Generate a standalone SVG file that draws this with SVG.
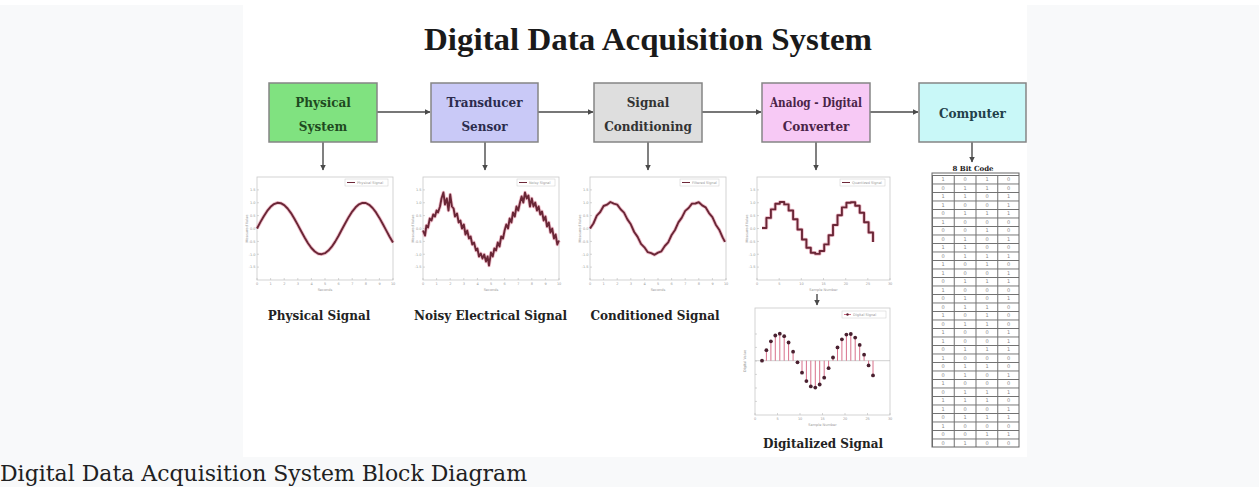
<svg xmlns="http://www.w3.org/2000/svg" xmlns:xlink="http://www.w3.org/1999/xlink" width="1259" height="487" viewBox="0 0 1259 487">
<style>
.bg{fill:#f8f9fa}
.box{stroke:#858585;stroke-width:1.5}
.bt{font-family:"DejaVu Serif","Liberation Serif",serif;font-weight:bold;font-size:12px;text-anchor:middle}
.lab{font-family:"DejaVu Serif","Liberation Serif",serif;font-weight:bold;font-size:12px;text-anchor:middle;fill:#222}
.conn{stroke:#4a4a4a;stroke-width:1.4;fill:none}
.frame{fill:#fff;stroke:#c8c8c8;stroke-width:0.8}
.tk{stroke:#bbb;stroke-width:0.6}
.tiny{font-family:"DejaVu Sans",sans-serif;font-size:3.5px;fill:#999}
.halo{fill:none;stroke:#eaa6b8;stroke-width:3.6;stroke-linejoin:round;opacity:0.7}
.sig{fill:none;stroke:#6a2636;stroke-width:1.9;stroke-linejoin:round}
.leg{fill:#fff;stroke:#ccc;stroke-width:0.5}
.cell{font-family:"DejaVu Sans",sans-serif;font-size:5px;fill:#888;text-anchor:middle}
</style>
<defs>
<marker id="ah" viewBox="0 0 10 10" refX="9" refY="5" markerWidth="4" markerHeight="4" orient="auto">
<path d="M0,0 L10,5 L0,10 z" fill="#4a4a4a"/>
</marker>
<pattern id="grid" x="932" y="175" width="21.75" height="8.5" patternUnits="userSpaceOnUse">
<path d="M0,0.4 H21.75 M0.5,0 V8.5" stroke="#6f6f6f" stroke-width="1" fill="none"/>
</pattern>
<g id="yt">
<text class="tiny" x="-1.5" y="14" text-anchor="end">1.5</text>
<text class="tiny" x="-1.5" y="27" text-anchor="end">1.0</text>
<text class="tiny" x="-1.5" y="40" text-anchor="end">0.5</text>
<text class="tiny" x="-1.5" y="52.5" text-anchor="end">0.0</text>
<text class="tiny" x="-1.5" y="65.5" text-anchor="end">-0.5</text>
<text class="tiny" x="-1.5" y="78.5" text-anchor="end">-1.0</text>
<text class="tiny" x="-1.5" y="91" text-anchor="end">-1.5</text>
</g>
<g id="ax10">
<rect class="frame" x="0" y="0" width="136" height="103"/>
<path class="tk" d="M0,103 v-2 M13.6,103 v-2 M27.2,103 v-2 M40.8,103 v-2 M54.4,103 v-2 M68,103 v-2 M81.6,103 v-2 M95.2,103 v-2 M108.8,103 v-2 M122.4,103 v-2 M136,103 v-2 M0,12.9 h2 M0,25.75 h2 M0,38.6 h2 M0,51.5 h2 M0,64.4 h2 M0,77.25 h2 M0,90.1 h2"/>
<text class="tiny" y="108" x="-1 12.6 26.2 39.8 53.4 67 80.6 94.2 107.8 121.4 133.9 136">012345678910</text>
<use xlink:href="#yt" href="#yt"/>
<text class="tiny" x="68" y="114" text-anchor="middle">Seconds</text>
<text class="tiny" transform="translate(-9,51.5) rotate(-90)" text-anchor="middle">Measured Value</text>
</g>
</defs>

<rect x="0" y="0" width="1259" height="487" fill="#fff"/>
<rect class="bg" x="0" y="5" width="243" height="452"/>
<rect class="bg" x="1027" y="5" width="232" height="452"/>
<rect class="bg" x="0" y="457" width="1259" height="30"/>

<text x="648" y="50" font-family="'Liberation Serif',serif" font-weight="bold" font-size="32" text-anchor="middle" textLength="448" lengthAdjust="spacingAndGlyphs" fill="#1a1a1a">Digital Data Acquisition System</text>

<g id="connectors">
<path class="conn" d="M377,112 H430" marker-end="url(#ah)"/>
<path class="conn" d="M538,112 H593" marker-end="url(#ah)"/>
<path class="conn" d="M702,112 H761" marker-end="url(#ah)"/>
<path class="conn" d="M870,112 H918" marker-end="url(#ah)"/>
<path class="conn" d="M323,142 V170" marker-end="url(#ah)"/>
<path class="conn" d="M485,142 V170" marker-end="url(#ah)"/>
<path class="conn" d="M648,142 V170" marker-end="url(#ah)"/>
<path class="conn" d="M816,142 V170" marker-end="url(#ah)"/>
<path class="conn" d="M972,142 V162" marker-end="url(#ah)"/>
<path class="conn" d="M817,294 V305" marker-end="url(#ah)"/>
</g>

<g id="physical-system">
<rect class="box" x="269" y="83" width="108" height="59" fill="#80e280"/>
<text class="bt" fill="#1f4a1f" x="323" y="107">Physical</text>
<text class="bt" fill="#1f4a1f" x="323" y="131">System</text>
</g>
<g id="transducer-sensor">
<rect class="box" x="431" y="83" width="107" height="59" fill="#c9c9f7"/>
<text class="bt" fill="#2c2c4e" x="484.5" y="107">Transducer</text>
<text class="bt" fill="#2c2c4e" x="484.5" y="131">Sensor</text>
</g>
<g id="signal-conditioning">
<rect class="box" x="594" y="83" width="108" height="59" fill="#dedede"/>
<text class="bt" fill="#333" x="648" y="107">Signal</text>
<text class="bt" fill="#333" x="648" y="131">Conditioning</text>
</g>
<g id="adc">
<rect class="box" x="762" y="83" width="108" height="59" fill="#f7c9f5"/>
<text class="bt" fill="#4a2448" x="816" y="107" font-size="11" textLength="92" lengthAdjust="spacingAndGlyphs">Analog - Digital</text>
<text class="bt" fill="#4a2448" x="816" y="131" font-size="11">Converter</text>
</g>
<g id="computer">
<rect class="box" x="919" y="83" width="107" height="59" fill="#c9f8f8"/>
<text class="bt" fill="#23404a" x="972.5" y="118" font-size="12.5">Computer</text>
</g>

<g id="chart-physical">
<use xlink:href="#ax10" href="#ax10" x="257" y="177"/>
<rect class="leg" x="345" y="179" width="43" height="7"/>
<path d="M347,182.5 h8" stroke="#6e2839" stroke-width="1"/>
<text class="tiny" x="357" y="184" font-size="3">Physical Signal</text>
<g transform="translate(257,228.5)">
<path class="halo" d="M0,0 L3.4,-6.4 6.8,-12.3 10.2,-17.6 13.6,-21.7 17,-24.4 20.4,-25.7 23.8,-25.3 27.2,-23.4 30.6,-20 34,-15.4 37.4,-9.8 40.8,-3.6 44.2,2.8 47.6,9 51,14.7 54.4,19.5 57.8,23 61.2,25.2 64.6,25.7 68,24.7 71.4,22.1 74.8,18.2 78.2,13.1 81.6,7.2 85,0.8 88.4,-5.5 91.8,-11.6 95.2,-16.9 98.6,-21.2 102,-24.2 105.4,-25.6 108.8,-25.5 112.2,-23.7 115.6,-20.5 119,-16.1 122.4,-10.6 125.8,-4.5 129.2,1.9 132.6,8.2 136,14"/>
<path class="sig" d="M0,0 L3.4,-6.4 6.8,-12.3 10.2,-17.6 13.6,-21.7 17,-24.4 20.4,-25.7 23.8,-25.3 27.2,-23.4 30.6,-20 34,-15.4 37.4,-9.8 40.8,-3.6 44.2,2.8 47.6,9 51,14.7 54.4,19.5 57.8,23 61.2,25.2 64.6,25.7 68,24.7 71.4,22.1 74.8,18.2 78.2,13.1 81.6,7.2 85,0.8 88.4,-5.5 91.8,-11.6 95.2,-16.9 98.6,-21.2 102,-24.2 105.4,-25.6 108.8,-25.5 112.2,-23.7 115.6,-20.5 119,-16.1 122.4,-10.6 125.8,-4.5 129.2,1.9 132.6,8.2 136,14"/>
</g>
<text class="lab" x="319" y="320">Physical Signal</text>
</g>

<g id="chart-noisy">
<use xlink:href="#ax10" href="#ax10" x="423" y="177"/>
<rect class="leg" x="517" y="179" width="38" height="7"/>
<path d="M519,182.5 h8" stroke="#6e2839" stroke-width="1"/>
<text class="tiny" x="529" y="184" font-size="3">Noisy Signal</text>
<g transform="translate(423,228.5)">
<path class="halo" d="M0,2 L2,7 3.4,-3 5,-1 6.8,-10 8.5,-8 10.2,-14 12,-12 13.6,-18 15,-16 17,-22 18.5,-30 20.4,-36 22,-24 23.8,-30 25.5,-18 27.2,-34 28.9,-22 30.6,-20 32,-12 34,-15 35.7,-6 37.4,-8 39,0 40.8,-4 42.5,6 44.2,2 46,10 47.6,8 49.3,16 51,14 53,22 54.4,20 56,28 57.8,25 59.5,30 61.2,26 63,33 64.6,28 66,37 68,24 69.7,28 71.4,20 73,22 74.8,14 76.5,18 78.2,8 80,10 81.6,2 83.3,-4 85,0 86.7,-10 88.4,-6 90,-16 91.8,-12 93.5,-22 95.2,-18 97,-26 98.6,-32 100.3,-26 102,-36 103.7,-30 105.4,-33 107,-22 108.8,-30 110.5,-22 112.2,-26 114,-18 115.6,-22 117.3,-14 119,-17 120.7,-8 122.4,-12 124,-2 125.8,-6 127.5,4 129.2,0 131,10 132.6,6 134.3,16 136,12"/>
<path class="sig" stroke-width="1.5" d="M0,2 L2,7 3.4,-3 5,-1 6.8,-10 8.5,-8 10.2,-14 12,-12 13.6,-18 15,-16 17,-22 18.5,-30 20.4,-36 22,-24 23.8,-30 25.5,-18 27.2,-34 28.9,-22 30.6,-20 32,-12 34,-15 35.7,-6 37.4,-8 39,0 40.8,-4 42.5,6 44.2,2 46,10 47.6,8 49.3,16 51,14 53,22 54.4,20 56,28 57.8,25 59.5,30 61.2,26 63,33 64.6,28 66,37 68,24 69.7,28 71.4,20 73,22 74.8,14 76.5,18 78.2,8 80,10 81.6,2 83.3,-4 85,0 86.7,-10 88.4,-6 90,-16 91.8,-12 93.5,-22 95.2,-18 97,-26 98.6,-32 100.3,-26 102,-36 103.7,-30 105.4,-33 107,-22 108.8,-30 110.5,-22 112.2,-26 114,-18 115.6,-22 117.3,-14 119,-17 120.7,-8 122.4,-12 124,-2 125.8,-6 127.5,4 129.2,0 131,10 132.6,6 134.3,16 136,12"/>
</g>
<text class="lab" x="490.5" y="320">Noisy Electrical Signal</text>
</g>

<g id="chart-conditioned">
<use xlink:href="#ax10" href="#ax10" x="590" y="177"/>
<rect class="leg" x="680" y="179" width="39" height="7"/>
<path d="M682,182.5 h8" stroke="#6e2839" stroke-width="1"/>
<text class="tiny" x="692" y="184" font-size="3">Filtered Signal</text>
<g transform="translate(590,228.5)">
<path class="halo" d="M0,0 L3.4,-5 6.8,-12.8 10.2,-16.5 13.6,-22.5 17,-23.8 20.4,-26.5 23.8,-24.8 27.2,-23.9 30.6,-19.2 34,-15.9 37.4,-9.1 40.8,-4.2 44.2,3.5 47.6,8.4 51,15.4 54.4,18.8 57.8,23.7 61.2,24.6 64.6,26.3 68,24.1 71.4,22.8 74.8,17.5 78.2,13.8 81.6,6.5 85,1.5 88.4,-6.1 91.8,-10.9 95.2,-17.6 98.6,-20.5 102,-24.9 105.4,-25 108.8,-26.3 112.2,-23.1 115.6,-21.2 119,-15.4 122.4,-11.3 125.8,-3.8 129.2,1.2 132.6,8.9 135,13.4"/>
<path class="sig" d="M0,0 L3.4,-5 6.8,-12.8 10.2,-16.5 13.6,-22.5 17,-23.8 20.4,-26.5 23.8,-24.8 27.2,-23.9 30.6,-19.2 34,-15.9 37.4,-9.1 40.8,-4.2 44.2,3.5 47.6,8.4 51,15.4 54.4,18.8 57.8,23.7 61.2,24.6 64.6,26.3 68,24.1 71.4,22.8 74.8,17.5 78.2,13.8 81.6,6.5 85,1.5 88.4,-6.1 91.8,-10.9 95.2,-17.6 98.6,-20.5 102,-24.9 105.4,-25 108.8,-26.3 112.2,-23.1 115.6,-21.2 119,-15.4 122.4,-11.3 125.8,-3.8 129.2,1.2 132.6,8.9 135,13.4"/>
</g>
<text class="lab" x="655" y="320">Conditioned Signal</text>
</g>

<g id="chart-quantized">
<rect class="frame" x="757" y="177" width="133" height="103"/>
<path class="tk" d="M757,280 v-2 M779.2,280 v-2 M801.3,280 v-2 M823.5,280 v-2 M845.7,280 v-2 M867.8,280 v-2 M890,280 v-2 M757,189.9 h2 M757,202.75 h2 M757,215.6 h2 M757,228.5 h2 M757,241.4 h2 M757,254.25 h2 M757,267.1 h2"/>
<text class="tiny" y="285" x="756 778.2 799.3 801.4 821.5 823.6 843.7 845.8 865.8 867.9 888 890.1">051015202530</text>
<use xlink:href="#yt" href="#yt" x="757" y="177"/>
<text class="tiny" x="823.5" y="291" text-anchor="middle">Sample Number</text>
<text class="tiny" transform="translate(748,228.5) rotate(-90)" text-anchor="middle">Measured Value</text>
<rect class="leg" x="840" y="179" width="45" height="7"/>
<path d="M842,182.5 h8" stroke="#6e2839" stroke-width="1"/>
<text class="tiny" x="852" y="184" font-size="3">Quantized Signal</text>
<path class="halo" d="M762,228 H766.4 V217.9 H770.9 V209.4 H775.3 V203.8 H779.8 V202 H784.2 V204.4 H788.6 V210.5 H793.1 V219.3 H797.5 V229.5 H802 V239.5 H806.4 V247.7 H810.8 V252.8 H815.3 V253.9 H819.7 V251 H824.2 V244.4 H828.6 V235.3 H833 V225 H837.5 V215.2 H841.9 V207.4 H846.4 V202.8 H850.8 V202.3 H855.2 V205.8 H859.7 V212.8 H864.1 V222.2 H868.6 V232.5 H873 V242.1"/>
<path class="sig" stroke-width="1.6" d="M762,228 H766.4 V217.9 H770.9 V209.4 H775.3 V203.8 H779.8 V202 H784.2 V204.4 H788.6 V210.5 H793.1 V219.3 H797.5 V229.5 H802 V239.5 H806.4 V247.7 H810.8 V252.8 H815.3 V253.9 H819.7 V251 H824.2 V244.4 H828.6 V235.3 H833 V225 H837.5 V215.2 H841.9 V207.4 H846.4 V202.8 H850.8 V202.3 H855.2 V205.8 H859.7 V212.8 H864.1 V222.2 H868.6 V232.5 H873 V242.1"/>
</g>

<g id="chart-digital">
<rect class="frame" x="755" y="308" width="135" height="107"/>
<path class="tk" d="M755,415 v-2 M777.5,415 v-2 M800,415 v-2 M822.5,415 v-2 M845,415 v-2 M867.5,415 v-2 M890,415 v-2 M755,334 h2 M755,347.4 h2 M755,361 h2 M755,374.4 h2 M755,388 h2 M755,401.4 h2"/>
<path d="M755,360.7 H890" stroke="#bbb" stroke-width="0.7"/>
<text class="tiny" y="420" x="754 776.5 798 800.1 820.5 822.6 843 845.1 865.5 867.6 888 890.1">051015202530</text>
<text class="tiny" x="822.5" y="426" text-anchor="middle">Sample Number</text>
<text class="tiny" transform="translate(746,361) rotate(-90)" text-anchor="middle">Digital Value</text>
<rect class="leg" x="842" y="311" width="44" height="7"/>
<path d="M844,314.5 h7" stroke="#d06a84" stroke-width="1"/>
<circle cx="847.5" cy="314.5" r="1.2" fill="#5a2030"/>
<text class="tiny" x="853" y="316" font-size="3">Digital Signal</text>
<path stroke="#d4607e" stroke-width="0.9" d="M766.4,360.7 V350.2 M770.9,360.7 V341.3 M775.3,360.7 V335.5 M779.8,360.7 V333.7 M784.2,360.7 V336.2 M788.6,360.7 V342.5 M793.1,360.7 V351.7 M797.5,360.7 V362.3 M802,360.7 V372.7 M806.4,360.7 V381.1 M810.8,360.7 V386.4 M815.3,360.7 V387.6 M819.7,360.7 V384.5 M824.2,360.7 V377.7 M828.6,360.7 V368.2 M833,360.7 V357.5 M837.5,360.7 V347.4 M841.9,360.7 V339.3 M846.4,360.7 V334.6 M850.8,360.7 V334 M855.2,360.7 V337.6 M859.7,360.7 V344.9 M864.1,360.7 V354.7 M868.6,360.7 V365.4 M873,360.7 V375.4"/>
<g fill="#4a2030">
<circle cx="762" cy="360.7" r="1.9"/><circle cx="766.4" cy="350.2" r="1.9"/><circle cx="770.9" cy="341.3" r="1.9"/><circle cx="775.3" cy="335.5" r="1.9"/><circle cx="779.8" cy="333.7" r="1.9"/><circle cx="784.2" cy="336.2" r="1.9"/><circle cx="788.6" cy="342.5" r="1.9"/><circle cx="793.1" cy="351.7" r="1.9"/><circle cx="797.5" cy="362.3" r="1.9"/><circle cx="802" cy="372.7" r="1.9"/><circle cx="806.4" cy="381.1" r="1.9"/><circle cx="810.8" cy="386.4" r="1.9"/><circle cx="815.3" cy="387.6" r="1.9"/><circle cx="819.7" cy="384.5" r="1.9"/><circle cx="824.2" cy="377.7" r="1.9"/><circle cx="828.6" cy="368.2" r="1.9"/><circle cx="833" cy="357.5" r="1.9"/><circle cx="837.5" cy="347.4" r="1.9"/><circle cx="841.9" cy="339.3" r="1.9"/><circle cx="846.4" cy="334.6" r="1.9"/><circle cx="850.8" cy="334" r="1.9"/><circle cx="855.2" cy="337.6" r="1.9"/><circle cx="859.7" cy="344.9" r="1.9"/><circle cx="864.1" cy="354.7" r="1.9"/><circle cx="868.6" cy="365.4" r="1.9"/><circle cx="873" cy="375.4" r="1.9"/>
</g>
<text class="lab" x="823" y="448">Digitalized Signal</text>
</g>

<g id="bit-table">
<text x="973" y="171" font-family="'DejaVu Serif',serif" font-weight="bold" font-size="7" text-anchor="middle" fill="#222">8 Bit Code</text>
<rect x="932" y="175" width="87" height="272" fill="url(#grid)"/>
<rect x="932" y="173" width="87" height="274" fill="none" stroke="#666" stroke-width="1"/>
<text class="cell" x="943 943 943 943 943 943 943 943 943 943 943 943 943 943 943 943 943 943 943 943 943 943 943 943 943 943 943 943 943 943 943 943" y="181.3 189.8 198.3 206.8 215.3 223.8 232.3 240.8 249.3 257.8 266.3 274.8 283.3 291.8 300.3 308.8 317.3 325.8 334.3 342.8 351.3 359.8 368.3 376.8 385.3 393.8 402.3 410.8 419.3 427.8 436.3 444.8">10110100101101001011010010110100</text>
<text class="cell" x="965 965 965 965 965 965 965 965 965 965 965 965 965 965 965 965 965 965 965 965 965 965 965 965 965 965 965 965 965 965 965 965" y="181.3 189.8 198.3 206.8 215.3 223.8 232.3 240.8 249.3 257.8 266.3 274.8 283.3 291.8 300.3 308.8 317.3 325.8 334.3 342.8 351.3 359.8 368.3 376.8 385.3 393.8 402.3 410.8 419.3 427.8 436.3 444.8">01101001110010110100101101101001</text>
<text class="cell" x="987 987 987 987 987 987 987 987 987 987 987 987 987 987 987 987 987 987 987 987 987 987 987 987 987 987 987 987 987 987 987 987" y="181.3 189.8 198.3 206.8 215.3 223.8 232.3 240.8 249.3 257.8 266.3 274.8 283.3 291.8 300.3 308.8 317.3 325.8 334.3 342.8 351.3 359.8 368.3 376.8 385.3 393.8 402.3 410.8 419.3 427.8 436.3 444.8">11001010011010011100101001101010</text>
<text class="cell" x="1008.5 1008.5 1008.5 1008.5 1008.5 1008.5 1008.5 1008.5 1008.5 1008.5 1008.5 1008.5 1008.5 1008.5 1008.5 1008.5 1008.5 1008.5 1008.5 1008.5 1008.5 1008.5 1008.5 1008.5 1008.5 1008.5 1008.5 1008.5 1008.5 1008.5 1008.5 1008.5" y="181.3 189.8 198.3 206.8 215.3 223.8 232.3 240.8 249.3 257.8 266.3 274.8 283.3 291.8 300.3 308.8 317.3 325.8 334.3 342.8 351.3 359.8 368.3 376.8 385.3 393.8 402.3 410.8 419.3 427.8 436.3 444.8">00111001010110100011100101011010</text>
</g>

<text x="0" y="481" font-family="'DejaVu Serif','Liberation Serif',serif" font-size="23" fill="#202122" textLength="527" lengthAdjust="spacingAndGlyphs">Digital Data Acquisition System Block Diagram</text>
</svg>
